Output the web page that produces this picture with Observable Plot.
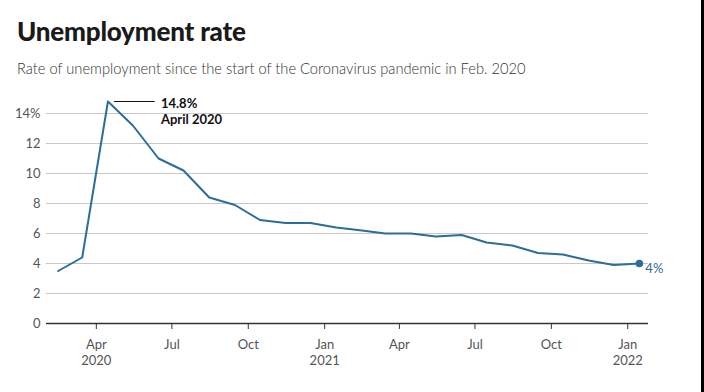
<!DOCTYPE html>
<html>
<head>
<meta charset="utf-8">
<script src="https://cdn.jsdelivr.net/npm/d3@7"></script>
<script src="https://cdn.jsdelivr.net/npm/@observablehq/plot@0.6"></script>
<style>
  html, body { margin: 0; padding: 0; background: #fff; }
  body { width: 704px; height: 392px; position: relative; overflow: hidden; font-family: Lato, "Noto Sans", sans-serif; }
  h1 { position: absolute; left: 17px; top: 15px; margin: 0; font-size: 26px; font-weight: 900; color: #1a1a1a; letter-spacing: -0.2px; }
  .sub { position: absolute; left: 17px; top: 59px; margin: 0; font-size: 14.7px; font-weight: 300; color: #333; }
  #chart { position: absolute; left: 0; top: 88px; }
  .edge { position: absolute; right: 0; top: 0; width: 3px; height: 392px; background: #000; }
</style>
</head>
<body>
<h1>Unemployment rate</h1>
<p class="sub">Rate of unemployment since the start of the Coronavirus pandemic in Feb. 2020</p>
<div id="chart"></div>
<div class="edge"></div>
<script>
const months = ["2020-02","2020-03","2020-04","2020-05","2020-06","2020-07","2020-08","2020-09","2020-10","2020-11","2020-12",
  "2021-01","2021-02","2021-03","2021-04","2021-05","2021-06","2021-07","2021-08","2021-09","2021-10","2021-11","2021-12","2022-01"];
const rates = [3.5, 4.4, 14.8, 13.2, 11.0, 10.2, 8.4, 7.9, 6.9, 6.7, 6.7,
  6.4, 6.2, 6.0, 6.0, 5.8, 5.9, 5.4, 5.2, 4.7, 4.6, 4.2, 3.9, 4.0];
const xTickDates = ["2020-04-01","2020-07-01","2020-10-01","2021-01-01","2021-04-01","2021-07-01","2021-10-01","2022-01-01"];
const xTickLabels = ["Apr\n2020","Jul","Oct","Jan\n2021","Apr","Jul","Oct","Jan\n2022"];
const yTicks = [0, 2, 4, 6, 8, 10, 12, 14];

const data = months.map((m, i) => ({date: new Date(m + "-15"), value: rates[i]}));
const xTicks = xTickDates.map(d => new Date(d));
const peak = data.reduce((a, b) => (b.value > a.value ? b : a));
const last = data[data.length - 1];
const lineColor = "#2c6d9a";

const chart = Plot.plot({
  width: 704,
  height: 304,
  marginLeft: 46,
  marginRight: 56,
  marginTop: 10,
  marginBottom: 69,
  style: {fontFamily: "Lato, 'Noto Sans', sans-serif", fontSize: "13px", color: "#555", background: "transparent"},
  x: {type: "utc", domain: [new Date("2020-02-01"), new Date("2022-01-26")]},
  y: {domain: [0, 15]},
  marks: [
    Plot.ruleY(yTicks.filter(d => d !== 0), {stroke: "#c8c8c8", strokeWidth: 1}),
    Plot.axisY({ticks: yTicks, tickSize: 0, tickPadding: 6, tickFormat: d => d === 14 ? "14%" : String(d), fill: "#555", fontSize: 13, label: null}),
    Plot.axisX({ticks: xTicks, tickSize: 6, tickPadding: 7, stroke: "#333", fill: "#555", fontSize: 13, lineHeight: 1.3,
      tickFormat: (d) => xTickLabels[xTicks.findIndex(t => +t === +d)], label: null}),
    Plot.ruleY([0], {stroke: "#333", strokeWidth: 1.3}),
    Plot.line(data, {x: "date", y: "value", stroke: lineColor, strokeWidth: 2, curve: "linear"}),
    Plot.dot([last], {x: "date", y: "value", r: 3.8, fill: lineColor, stroke: "none"}),
    Plot.text([last], {x: "date", y: "value", text: d => `${d.value}%`, dx: 6, dy: 5, textAnchor: "start", fill: lineColor, fontSize: 13}),
    Plot.ruleY([peak], {y: "value", x1: d => d3.utcDay.offset(d.date, 8), x2: d => d3.utcDay.offset(d.date, 57), stroke: "#111", strokeWidth: 1}),
    Plot.text([peak], {x: "date", y: "value", text: d => `${d.value}%\nApril 2020`, dx: 53, dy: -5, textAnchor: "start", lineAnchor: "top",
      fill: "#111", fontWeight: "bold", fontSize: 13, lineHeight: 1.23})
  ]
});
document.getElementById("chart").appendChild(chart);
</script>
</body>
</html>
